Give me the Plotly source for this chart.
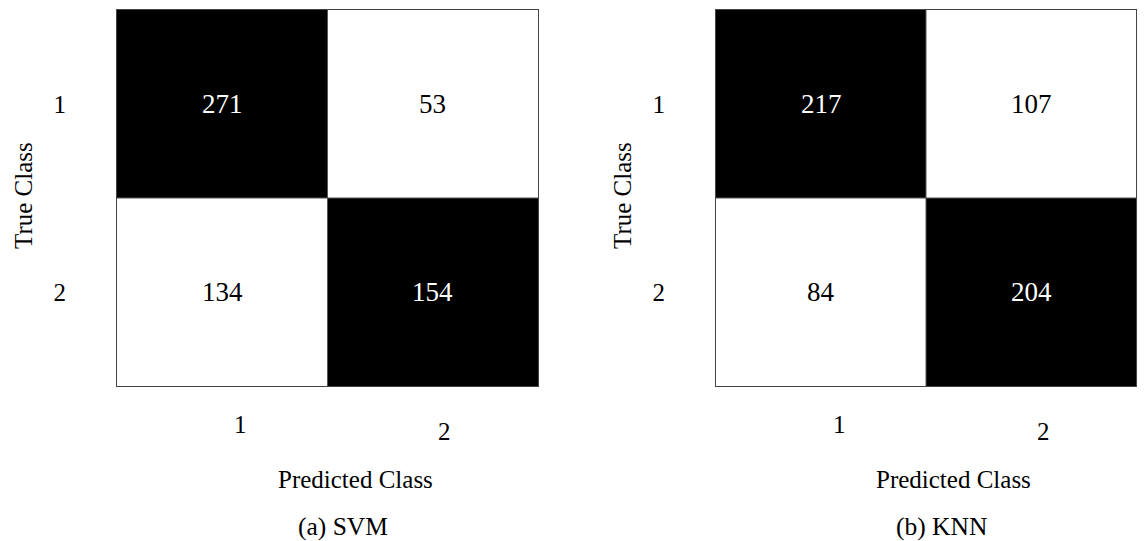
import plotly.graph_objects as go

# Confusion-matrix counts (rows = true class, columns = predicted class)
class_labels = ["1", "2"]
svm_counts = [[271, 53],
              [134, 154]]
knn_counts = [[217, 107],
              [84, 204]]
panel_titles = ["(a) SVM", "(b) KNN"]
x_title = "Predicted Class"
y_title = "True Class"

FONT = "Liberation Serif, Times New Roman, serif"
W, H = 1144, 541

fig = go.Figure()

panels = [
    dict(counts=svm_counts, title=panel_titles[0], xa="x", ya="y",
         dom=(117 / W, 538 / W)),
    dict(counts=knn_counts, title=panel_titles[1], xa="x2", ya="y2",
         dom=(716 / W, 1136 / W)),
]
ydom = (1 - 386 / H, 1 - 10 / H)
pos = [1, 2]

for i, p in enumerate(panels):
    counts = p["counts"]
    # diagonal (correct) cells dark, off-diagonal cells light
    shade = [[1 if r == c else 0 for c in range(2)] for r in range(2)]
    fig.add_trace(go.Heatmap(
        z=shade, x=pos, y=pos, xaxis=p["xa"], yaxis=p["ya"],
        colorscale=[[0, "#ffffff"], [1, "#000000"]], zmin=0, zmax=1,
        showscale=False, hoverinfo="skip",
    ))
    for r in range(2):
        for c in range(2):
            fig.add_annotation(
                x=pos[c], y=pos[r], xref=p["xa"], yref=p["ya"],
                text=str(counts[r][c]), showarrow=False,
                font=dict(family=FONT, size=27,
                          color="#ffffff" if shade[r][c] else "#000000"),
            )
    # cell separators
    fig.add_shape(type="line", xref=p["xa"], yref=p["ya"],
                  x0=1.5, x1=1.5, y0=0.5, y1=2.5,
                  line=dict(color="#555555", width=1))
    fig.add_shape(type="line", xref=p["xa"], yref=p["ya"],
                  x0=0.5, x1=2.5, y0=1.5, y1=1.5,
                  line=dict(color="#555555", width=1))
    # predicted-class tick labels beneath the matrix
    for c, (dx, dy) in enumerate([(18, 0), (12, -7)]):
        fig.add_annotation(
            x=pos[c], y=ydom[0], xref=p["xa"], yref="paper",
            xanchor="center", yanchor="middle", yshift=-38 + dy, xshift=dx,
            text=class_labels[c], showarrow=False,
            font=dict(family=FONT, size=25, color="#000000"),
        )
    x_mid = (p["dom"][0] + p["dom"][1]) / 2
    fig.add_annotation(
        x=x_mid, y=1 - 479 / H, xref="paper", yref="paper", xshift=28,
        text=x_title, showarrow=False, xanchor="center", yanchor="middle",
        font=dict(family=FONT, size=25, color="#000000"),
    )
    fig.add_annotation(
        x=x_mid, y=1 - 526 / H, xref="paper", yref="paper", xshift=16,
        text=p["title"], showarrow=False, xanchor="center", yanchor="middle",
        font=dict(family=FONT, size=25.5, color="#000000"),
    )
    fig.add_annotation(
        x=p["dom"][0], y=1 - 196 / H, xref="paper", yref="paper",
        xshift=-93, textangle=-90,
        text=y_title, showarrow=False, xanchor="center", yanchor="middle",
        font=dict(family=FONT, size=25, color="#000000"),
    )

axis_common = dict(showgrid=False, zeroline=False, showline=True, mirror=True,
                   linecolor="#444444", linewidth=1, ticks="")
for i, p in enumerate(panels):
    sfx = "" if i == 0 else "2"
    fig.update_layout(**{
        "xaxis" + sfx: dict(axis_common, domain=list(p["dom"]),
                            range=[0.5, 2.5], showticklabels=False,
                            anchor="y" + sfx),
        "yaxis" + sfx: dict(axis_common, domain=list(ydom),
                            range=[2.5, 0.5], tickvals=pos,
                            ticktext=class_labels, ticklabelstandoff=45,
                            tickfont=dict(family=FONT, size=25, color="#000000"),
                            anchor="x" + sfx),
    })

fig.update_layout(
    width=W, height=H,
    margin=dict(l=0, r=0, t=0, b=0),
    paper_bgcolor="#ffffff", plot_bgcolor="#ffffff",
    showlegend=False,
    font=dict(family=FONT, color="#000000"),
)

fig.write_html("out.html")
